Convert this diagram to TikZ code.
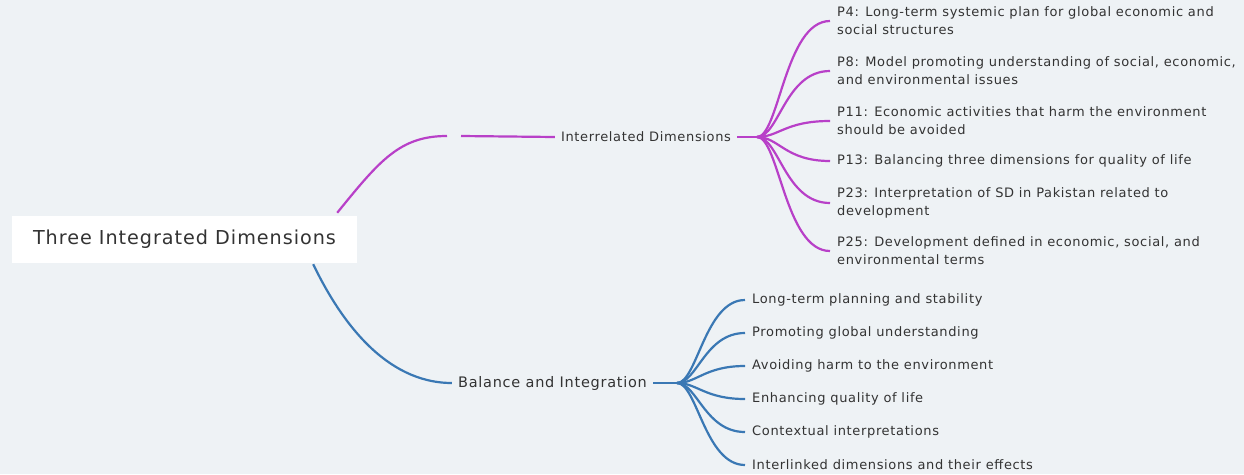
\documentclass[tikz,border=0pt]{standalone}
\usepackage{fontspec}
\setmainfont{DejaVu Sans}
\newfontfamily\lsfont[LetterSpace=5]{DejaVu Sans}
\definecolor{bg}{HTML}{EEF2F5}
\definecolor{mag}{HTML}{B840C8}
\definecolor{blu}{HTML}{3A78B4}
\definecolor{txt}{HTML}{333333}
\begin{document}
\begin{tikzpicture}[x=1pt,y=-1pt,
  leaf/.style={anchor=west, align=left, inner xsep=7pt, inner ysep=0pt, text=txt, font=\lsfont\fontsize{13}{18}\selectfont},
  mid/.style={inner xsep=6pt, inner ysep=0pt, text=txt, font=\lsfont\fontsize{13}{16}\selectfont},
  rootbox/.style={fill=white, minimum width=345pt, minimum height=47pt, inner sep=0pt, text=txt, font=\lsfont\fontsize{19.2}{22}\selectfont},
  mline/.style={draw=mag, line width=2.2pt},
  bline/.style={draw=blu, line width=2.2pt}]
\fill[bg] (0,0) rectangle (1244,474);
\useasboundingbox (0,0) rectangle (1244,474);

\node[rootbox] (root) at (184.5,239.5) {Three Integrated Dimensions};

% magenta branch
\node[mid] (id) at (646,137) {Interrelated Dimensions};
\coordinate (m1) at (447,136);
\coordinate (m2) at (461,136);
\coordinate (mc) at (757,137);
\draw[mline] ([xshift=-20pt,yshift=3pt]root.north east) .. controls (380,160) and (400,136) .. (m1);
\draw[mline] (m2) -- (id.west);
\draw[mline] (id.east) -- (mc);

\node[leaf] (p4) at (830,21) {P4: Long-term systemic plan for global economic and\\social structures};
\node[leaf] (p8) at (830,71) {P8: Model promoting understanding of social, economic,\\and environmental issues};
\node[leaf] (p11) at (830,121) {P11: Economic activities that harm the environment\\should be avoided};
\node[leaf] (p13) at (830,161) {P13: Balancing three dimensions for quality of life};
\node[leaf] (p23) at (830,203) {P23: Interpretation of SD in Pakistan related to\\development};
\node[leaf] (p25) at (830,251) {P25: Development defined in economic, social, and\\environmental terms};
\foreach \n in {p4,p8,p11,p13,p23,p25}
  \draw[mline] (mc) .. controls +(22,0) and +(-45,0) .. (\n.west);

% blue branch
\node[mid, font=\lsfont\fontsize{14.5}{16}\selectfont] (bi) at (552.5,383) {Balance and Integration};
\coordinate (bc) at (677,383);
\draw[bline] ([xshift=-44pt,yshift=-1pt]root.south east) .. controls (340,320) and (385,383) .. (bi.west);
\draw[bline] (bi.east) -- (bc);

\node[leaf] (b1) at (745,300) {Long-term planning and stability};
\node[leaf] (b2) at (745,333) {Promoting global understanding};
\node[leaf] (b3) at (745,366) {Avoiding harm to the environment};
\node[leaf] (b4) at (745,399) {Enhancing quality of life};
\node[leaf] (b5) at (745,432) {Contextual interpretations};
\node[leaf] (b6) at (745,465) {Interlinked dimensions and their effects};
\foreach \n in {b1,b2,b3,b4,b5,b6}
  \draw[bline] (bc) .. controls +(20,0) and +(-40,0) .. (\n.west);
\end{tikzpicture}
\end{document}
